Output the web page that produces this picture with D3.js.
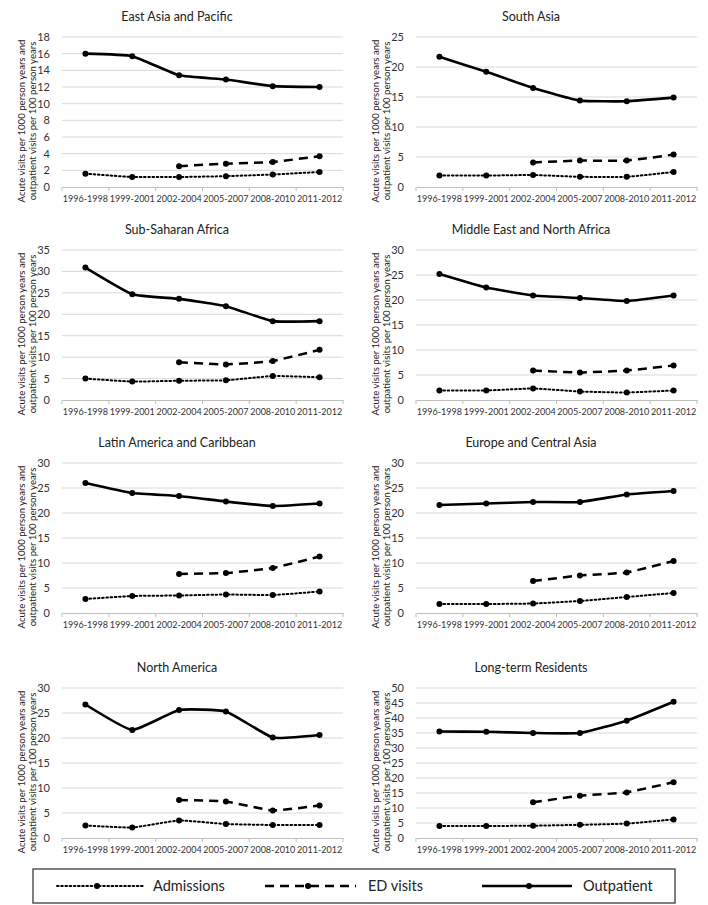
<!DOCTYPE html>
<html>
<head>
<meta charset="utf-8">
<script src="https://cdn.jsdelivr.net/npm/d3@7"></script>
<style>
  body { margin: 0; background: #fff; }
  svg { font-family: Lato, "Open Sans", sans-serif; }
</style>
</head>
<body>
<svg id="chart" width="708" height="905"></svg>
<script>
const periods = ["1996-1998", "1999-2001", "2002-2004", "2005-2007", "2008-2010", "2011-2012"];

const regions = ["East Asia and Pacific", "South Asia", "Sub-Saharan Africa", "Middle East and North Africa",
                 "Latin America and Caribbean", "Europe and Central Asia", "North America", "Long-term Residents"];

const yMax  = [18, 25, 35, 30, 30, 30, 30, 50];
const yStep = [2, 5, 5, 5, 5, 5, 5, 5];

const outpatient = [
  [16.0, 15.7, 13.4, 12.9, 12.1, 12.0],
  [21.7, 19.2, 16.5, 14.4, 14.3, 14.9],
  [30.9, 24.7, 23.6, 21.9, 18.4, 18.4],
  [25.2, 22.5, 20.9, 20.4, 19.8, 20.9],
  [26.0, 24.0, 23.4, 22.3, 21.4, 21.9],
  [21.6, 21.9, 22.2, 22.2, 23.7, 24.4],
  [26.7, 21.6, 25.6, 25.3, 20.1, 20.6],
  [35.5, 35.4, 35.0, 35.0, 39.1, 45.4]
];

const edVisits = [
  [null, null, 2.5, 2.8, 3.0, 3.7],
  [null, null, 4.1, 4.4, 4.4, 5.4],
  [null, null, 8.8, 8.3, 9.1, 11.7],
  [null, null, 5.9, 5.5, 5.9, 6.9],
  [null, null, 7.8, 8.0, 9.0, 11.3],
  [null, null, 6.4, 7.5, 8.1, 10.4],
  [null, null, 7.6, 7.3, 5.5, 6.5],
  [null, null, 11.9, 14.1, 15.2, 18.6]
];

const admissions = [
  [1.6, 1.2, 1.2, 1.3, 1.5, 1.8],
  [1.9, 1.9, 2.0, 1.7, 1.7, 2.5],
  [5.0, 4.3, 4.5, 4.6, 5.6, 5.3],
  [1.9, 1.9, 2.3, 1.7, 1.5, 1.9],
  [2.8, 3.4, 3.5, 3.7, 3.6, 4.3],
  [1.8, 1.8, 1.9, 2.4, 3.2, 4.0],
  [2.5, 2.1, 3.5, 2.8, 2.6, 2.6],
  [4.0, 4.0, 4.1, 4.4, 4.8, 6.2]
];

const seriesNames = ["Admissions", "ED visits", "Outpatient"];

const styles = {
  "Admissions": { width: 2, dash: "1.6,2.6", cap: "round" },
  "ED visits":  { width: 2.5, dash: "9,6", cap: "butt" },
  "Outpatient": { width: 2.6, dash: null, cap: "butt" }
};

const svg = d3.select("#chart");

const colLeft = [0, 354];
const plotTop = [37, 250, 463, 688];
const plotH = 150;
const plotL = 62, plotW = 281;

regions.forEach((name, i) => {
  const col = i % 2, row = Math.floor(i / 2);
  const g = svg.append("g")
    .attr("transform", "translate(" + colLeft[col] + "," + plotTop[row] + ")");

  const x = d3.scaleBand().domain(periods).range([plotL, plotL + plotW]);
  const y = d3.scaleLinear().domain([0, yMax[i]]).range([plotH, 0]);
  const ticks = d3.range(0, yMax[i] + 0.001, yStep[i]);

  // title
  g.append("text")
    .attr("x", 177)
    .attr("y", -20)
    .attr("dy", "0.35em")
    .attr("text-anchor", "middle")
    .attr("font-size", 12.5)
    .attr("fill", "#222")
    .text(name);

  // gridlines
  g.append("g")
    .selectAll("line")
    .data(ticks.filter(t => t > 0))
    .enter()
    .append("line")
    .attr("x1", plotL).attr("x2", plotL + plotW)
    .attr("y1", d => y(d)).attr("y2", d => y(d))
    .attr("stroke", "#d9d9d9").attr("stroke-width", 1);

  // y axis labels
  const yAxis = d3.axisLeft(y).tickValues(ticks).tickSize(0).tickPadding(12);
  g.append("g")
    .attr("transform", "translate(" + plotL + ",0)")
    .call(yAxis)
    .call(s => s.select(".domain").remove())
    .call(s => s.selectAll("text").attr("font-size", 11).attr("fill", "#333")
      .attr("font-family", "Lato, sans-serif"));

  // x axis with ticks between categories
  const xAxis = d3.axisBottom(x).tickSize(0).tickPadding(9);
  const xg = g.append("g")
    .attr("transform", "translate(0," + plotH + ")")
    .call(xAxis);
  xg.select(".domain").attr("stroke", "#bfbfbf");
  xg.selectAll("text").attr("font-size", 9).attr("fill", "#333")
    .attr("font-family", "Lato, sans-serif");
  xg.selectAll(".sep")
    .data(d3.range(periods.length + 1))
    .enter()
    .append("line")
    .attr("class", "sep")
    .attr("x1", k => plotL + k * x.step()).attr("x2", k => plotL + k * x.step())
    .attr("y1", 0).attr("y2", 4)
    .attr("stroke", "#bfbfbf");

  // y title
  const yl = g.append("text")
    .attr("transform", "translate(0," + (plotH / 2 + 9) + ") rotate(-90)")
    .attr("text-anchor", "middle")
    .attr("font-size", 9.6)
    .attr("fill", "#222");
  yl.append("tspan").attr("x", 0).attr("y", 22).attr("dy", "0.35em")
    .text("Acute visits per 1000 person years and");
  yl.append("tspan").attr("x", 0).attr("y", 33).attr("dy", "0.35em")
    .text("outpatient visits per 100 person years");

  const seriesData = {
    "Admissions": admissions[i],
    "ED visits": edVisits[i],
    "Outpatient": outpatient[i]
  };

  const line = d3.line()
    .defined(d => d.v !== null)
    .x(d => x(d.p) + x.bandwidth() / 2)
    .y(d => y(d.v))
    .curve(d3.curveCardinal.tension(0.6));

  seriesNames.forEach(s => {
    const pts = periods.map((p, k) => ({ p: p, v: seriesData[s][k] }));
    const st = styles[s];
    g.append("path")
      .datum(pts)
      .attr("d", line)
      .attr("fill", "none")
      .attr("stroke", "#000")
      .attr("stroke-width", st.width)
      .attr("stroke-linecap", st.cap)
      .attr("stroke-dasharray", st.dash);
    g.append("g")
      .selectAll("circle")
      .data(pts.filter(d => d.v !== null))
      .enter()
      .append("circle")
      .attr("cx", d => x(d.p) + x.bandwidth() / 2)
      .attr("cy", d => y(d.v))
      .attr("r", 3)
      .attr("fill", "#000");
  });
});

// legend
const legend = svg.append("g").attr("id", "legend");
legend.append("rect")
  .attr("x", 33).attr("y", 869)
  .attr("width", 642).attr("height", 34)
  .attr("fill", "none").attr("stroke", "#555").attr("stroke-width", 1.5);

const legendPos = [
  { x1: 57, x2: 143, m: 97, t: 153 },
  { x1: 265, x2: 356, m: 308, t: 368 },
  { x1: 482, x2: 572, m: 529, t: 583 }
];
const ly = 886;

seriesNames.forEach((s, k) => {
  const p = legendPos[k], st = styles[s];
  legend.append("line")
    .attr("x1", p.x1).attr("x2", p.x2).attr("y1", ly).attr("y2", ly)
    .attr("stroke", "#000")
    .attr("stroke-width", st.width)
    .attr("stroke-linecap", st.cap)
    .attr("stroke-dasharray", st.dash);
  legend.append("circle")
    .attr("cx", p.m).attr("cy", ly).attr("r", 3).attr("fill", "#000");
  legend.append("text")
    .attr("x", p.t).attr("y", ly).attr("dy", "0.35em")
    .attr("font-size", 14.5)
    .attr("fill", "#222")
    .text(s);
});
</script>
</body>
</html>
